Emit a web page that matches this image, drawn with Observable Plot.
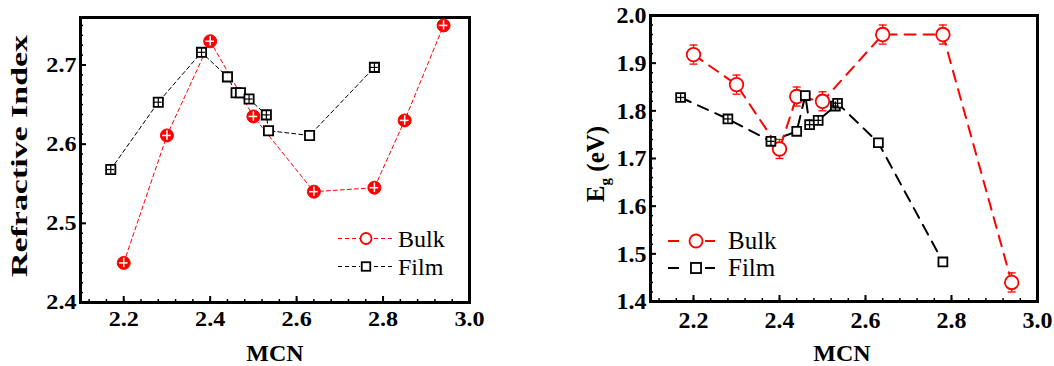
<!DOCTYPE html>
<html><head><meta charset="utf-8">
<script src="https://cdn.jsdelivr.net/npm/d3@7"></script>
<script src="https://cdn.jsdelivr.net/npm/@observablehq/plot@0.6"></script>
<style>
body{margin:0;background:#fff;}
#wrap{position:relative;width:1054px;height:366px;overflow:hidden;background:#fff;}
#wrap svg{position:absolute;top:0;}
</style></head><body><div id="wrap"></div>
<script>
// ---------- data ----------
const series = ["Bulk", "Film"];
const colors = ["#ff0000", "#000000"];

// Left panel: refractive index vs MCN
const mcnBulkN = [2.20, 2.30, 2.40, 2.50, 2.64, 2.78, 2.85, 2.94];
const nBulk    = [2.450, 2.611, 2.730, 2.635, 2.540, 2.545, 2.630, 2.750];
const nBulkErr = [0.006, 0.006, 0.006, 0.006, 0.006, 0.006, 0.006, 0.006];
const mcnBulkNErr = [0.010, 0.010, 0.010, 0.010, 0.010, 0.010, 0.010, 0.010];

const mcnFilm  = [2.17, 2.28, 2.38, 2.44, 2.46, 2.47, 2.49, 2.53, 2.535, 2.63, 2.78];
const nFilm    = [2.568, 2.653, 2.716, 2.685, 2.665, 2.665, 2.657, 2.637, 2.617, 2.611, 2.697];
const nFilmErr = [0.0055, 0.0055, 0.0055, 0, 0, 0, 0.0055, 0.0055, 0, 0, 0.0055];
const mcnFilmNErr = [0.009, 0.009, 0.009, 0, 0, 0, 0.009, 0.009, 0, 0, 0.009];

// Right panel: band gap Eg vs MCN
const mcnBulkE = [2.20, 2.30, 2.40, 2.44, 2.50, 2.64, 2.78, 2.94];
const egBulk   = [1.918, 1.855, 1.720, 1.830, 1.820, 1.960, 1.960, 1.440];
const egBulkErr = [0.02, 0.02, 0.02, 0.02, 0.02, 0.02, 0.02, 0.02];

const egFilm    = [1.828, 1.783, 1.736, 1.757, 1.832, 1.771, 1.780, 1.810, 1.816, 1.733, 1.483];
const egFilmErr = [0.009, 0.009, 0.009, 0, 0, 0.009, 0.009, 0.009, 0.009, 0, 0];
const mcnFilmEErr = [0.009, 0.009, 0.009, 0, 0, 0.009, 0.009, 0.009, 0.009, 0, 0];

// ticks
const xTicks  = [2.2, 2.4, 2.6, 2.8, 3.0];
const nTicks  = [2.4, 2.5, 2.6, 2.7];
const egTicks = [1.4, 1.5, 1.6, 1.7, 1.8, 1.9, 2.0];
const xMinor  = d3.range(2.12, 3.0, 0.04);
const nMinor  = d3.range(2.4125, 2.76, 0.0125);
const egMinor = d3.range(1.42, 2.0, 0.02);

const xLabel = "MCN";
const nLabel = "Refractive Index";

// ---------- helpers ----------
const rows = (xs, ys, ey, ex) => xs.map((x, i) => ({x, y: ys[i], ey: ey[i], ex: ex ? ex[i] : 0}));
const capSym = {draw(c, size) {const r = Math.sqrt(size / Math.PI); c.moveTo(-r, 0); c.lineTo(r, 0);}};
const serif = "'Liberation Serif', 'Times New Roman', Times, serif";
const fmt = d => d.toFixed(1);

function errBars(data, color, width) {
  return [
    Plot.ruleX(data, {filter: d => d.ey > 0, x: "x", y1: d => d.y - d.ey, y2: d => d.y + d.ey, stroke: color, strokeWidth: width}),
    Plot.ruleY(data, {filter: d => d.ex > 0, y: "y", x1: d => d.x - d.ex, x2: d => d.x + d.ex, stroke: color, strokeWidth: width})
  ];
}

function axes(ticksX, minorX, ticksY, minorY, fs) {
  return [
    Plot.axisX(minorX, {tickSize: -3, fill: "none", label: null, strokeWidth: 1.5}),
    Plot.axisX(ticksX, {tickSize: -6, fill: "none", label: null, strokeWidth: 2}),
    Plot.axisX(ticksX, {tickSize: 0, tickPadding: 9, tickFormat: fmt, label: null, fontSize: fs, fontWeight: "bold"}),
    Plot.axisY(minorY, {tickSize: -3, fill: "none", label: null, strokeWidth: 1.5}),
    Plot.axisY(ticksY, {tickSize: -6, fill: "none", label: null, strokeWidth: 2}),
    Plot.axisY(ticksY, {tickSize: 0, tickPadding: 4, tickFormat: fmt, label: null, fontSize: fs, fontWeight: "bold"}),
    Plot.frame({strokeWidth: 3})
  ];
}

const wrap = document.getElementById("wrap");
const NS = "http://www.w3.org/2000/svg";

function addText(svg, txt, attrs) {
  const t = document.createElementNS(NS, "text");
  for (const k in attrs) t.setAttribute(k, attrs[k]);
  t.textContent = txt;
  svg.appendChild(t);
  return t;
}
function addLine(svg, attrs) {
  const l = document.createElementNS(NS, "line");
  for (const k in attrs) l.setAttribute(k, attrs[k]);
  svg.appendChild(l);
  return l;
}

// ---------- left panel ----------
const bN = rows(mcnBulkN, nBulk, nBulkErr, mcnBulkNErr);
const fN = rows(mcnFilm, nFilm, nFilmErr, mcnFilmNErr);

const left = Plot.plot({
  width: 527, height: 366,
  marginLeft: 80, marginRight: 58, marginTop: 17, marginBottom: 64,
  x: {domain: [2.1, 3.0]},
  y: {domain: [2.4, 2.76]},
  style: {fontFamily: serif, background: "white", color: "black", overflow: "visible"},
  marks: [
    ...axes(xTicks, xMinor, nTicks, nMinor, 21),
    Plot.line(fN, {x: "x", y: "y", stroke: colors[1], strokeWidth: 1, strokeDasharray: "4,3"}),
    Plot.line(bN, {x: "x", y: "y", stroke: colors[0], strokeWidth: 1, strokeDasharray: "4,3"}),
    Plot.dot(fN, {x: "x", y: "y", r: 5.2, symbol: "square", fill: "white", stroke: colors[1], strokeWidth: 1.8}),
    ...errBars(fN, colors[1], 1.2),
    Plot.dot(bN, {x: "x", y: "y", r: 6.5, fill: colors[0], stroke: colors[0], strokeWidth: 1}),
    ...errBars(bN, "white", 1.5)
  ]
});
left.style.left = "0px";
wrap.appendChild(left);

// ---------- right panel ----------
const bE = rows(mcnBulkE, egBulk, egBulkErr);
const fE = rows(mcnFilm, egFilm, egFilmErr, mcnFilmEErr);

const right = Plot.plot({
  width: 527, height: 366,
  marginLeft: 123, marginRight: 17, marginTop: 15, marginBottom: 65,
  x: {domain: [2.1, 3.0]},
  y: {domain: [1.4, 2.0]},
  style: {fontFamily: serif, background: "white", color: "black", overflow: "visible"},
  marks: [
    ...axes(xTicks, xMinor, egTicks, egMinor, 24),
    Plot.line(fE, {x: "x", y: "y", stroke: colors[1], strokeWidth: 2, strokeDasharray: "11,8"}),
    Plot.line(bE, {x: "x", y: "y", stroke: colors[0], strokeWidth: 2, strokeDasharray: "11,8"}),
    Plot.ruleX(bE, {x: "x", y1: d => d.y - d.ey, y2: d => d.y + d.ey, stroke: colors[0], strokeWidth: 1.3}),
    Plot.dot(bE, {x: "x", y: d => d.y + d.ey, r: 4, symbol: capSym, stroke: colors[0], strokeWidth: 1.3}),
    Plot.dot(bE, {x: "x", y: d => d.y - d.ey, r: 4, symbol: capSym, stroke: colors[0], strokeWidth: 1.3}),
    Plot.dot(bE, {x: "x", y: "y", r: 6.8, fill: "white", stroke: colors[0], strokeWidth: 1.8}),
    Plot.dot(fE, {x: "x", y: "y", r: 5, symbol: "square", fill: "white", stroke: colors[1], strokeWidth: 1.8}),
    ...errBars(fE, colors[1], 1.3)
  ]
});
right.style.left = "527px";
wrap.appendChild(right);

// stretch left tick labels slightly (the reference glyphs are wide)
left.querySelectorAll('g[aria-label="x-axis tick label"] text, g[aria-label="y-axis tick label"] text').forEach(t => {
  const L = t.getComputedTextLength();
  t.setAttribute("textLength", (L * 1.15).toFixed(1));
  t.setAttribute("lengthAdjust", "spacingAndGlyphs");
});

// ---------- axis titles ----------
addText(left, xLabel, {x: 275, y: 361, "text-anchor": "middle", "font-family": serif, "font-weight": "bold", "font-size": 24});
const yl = addText(left, nLabel, {transform: "translate(19,156) rotate(-90)", "text-anchor": "middle", dy: "0.35em", "font-family": serif, "font-weight": "bold", "font-size": 24});
yl.setAttribute("textLength", 242);
yl.setAttribute("lengthAdjust", "spacingAndGlyphs");

addText(right, xLabel, {x: 315, y: 361, "text-anchor": "middle", "font-family": serif, "font-weight": "bold", "font-size": 24});
const eg = addText(right, "", {transform: "translate(68,164) rotate(-90)", "text-anchor": "middle", dy: "0.35em", "font-family": serif, "font-weight": "bold", "font-size": 25});
const t1 = document.createElementNS(NS, "tspan"); t1.textContent = "E"; eg.appendChild(t1);
const t2 = document.createElementNS(NS, "tspan"); t2.textContent = "g"; t2.setAttribute("font-size", 15); t2.setAttribute("dy", "6"); eg.appendChild(t2);
const t3 = document.createElementNS(NS, "tspan"); t3.textContent = " (eV)"; t3.setAttribute("dy", "-6"); eg.appendChild(t3);

// ---------- legends ----------
function legend(svg, cfg) {
  series.forEach((name, i) => {
    const y = cfg.y0 + i * cfg.dy;
    const c = colors[i];
    addLine(svg, {x1: cfg.x0, x2: cfg.xm - cfg.gap, y1: y, y2: y, stroke: c, "stroke-width": cfg.sw, "stroke-dasharray": cfg.dash});
    addLine(svg, {x1: cfg.x1, x2: cfg.xm + cfg.gap, y1: y, y2: y, stroke: c, "stroke-width": cfg.sw, "stroke-dasharray": cfg.dash});
    if (i === 0) {
      const ci = document.createElementNS(NS, "circle");
      ci.setAttribute("cx", cfg.xm); ci.setAttribute("cy", y); ci.setAttribute("r", cfg.r);
      ci.setAttribute("fill", "white"); ci.setAttribute("stroke", c); ci.setAttribute("stroke-width", 1.8);
      svg.appendChild(ci);
    } else {
      const s = cfg.r * 1.55;
      const re = document.createElementNS(NS, "rect");
      re.setAttribute("x", cfg.xm - s / 2); re.setAttribute("y", y - s / 2); re.setAttribute("width", s); re.setAttribute("height", s);
      re.setAttribute("fill", "white"); re.setAttribute("stroke", c); re.setAttribute("stroke-width", 1.8);
      svg.appendChild(re);
    }
    addText(svg, name, {x: cfg.tx, y: y + cfg.base, "text-anchor": "start", "font-family": serif, "font-weight": "normal", "font-size": cfg.fs, fill: "black"});
  });
}
legend(left, {x0: 338, x1: 392, xm: 366, gap: 6, r: 5.5, y0: 238.5, dy: 28, sw: 1, dash: "4,3", tx: 398, base: 8, fs: 24});
legend(right, {x0: 141, x1: 188, xm: 169, gap: 9, r: 6.5, y0: 241, dy: 27, sw: 2, dash: "11,40", tx: 201, base: 8, fs: 25});
</script>
</body></html>
